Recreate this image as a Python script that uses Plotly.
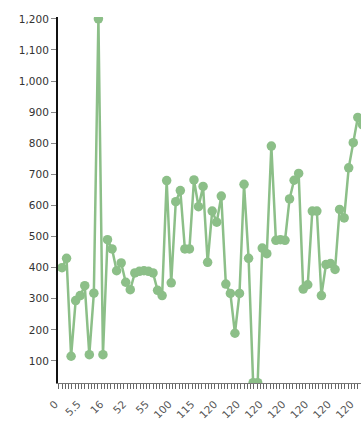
import plotly.graph_objects as go

# Series values (visible portion)
values = [400, 430, 115, 294, 310, 342, 120, 318, 1200, 120,
          490, 460, 390, 415, 353, 329, 383, 388, 390, 388,
          383, 327, 310, 680, 351, 612, 648, 460, 460, 682,
          596, 661, 417, 582, 546, 630, 347, 317, 189, 317,
          668, 430, 30, 30, 463, 445, 791, 488, 490, 488,
          621, 681, 703, 331, 345, 582, 582, 310, 410, 413,
          394, 587, 560, 721, 802, 883, 860]
x_index = list(range(len(values)))

# Category tick labels shown every 5th point
tick_labels = ["0", "5.5", "16", "52", "55", "100", "115",
               "120", "120", "120", "120", "120", "120", "120"]
tick_positions = [i * 5 for i in range(len(tick_labels))]

y_ticks = [100, 200, 300, 400, 500, 600, 700, 800, 900, 1000, 1100, 1200]

color = "#8cbf88"

fig = go.Figure(go.Scatter(
    x=x_index, y=values, mode="lines+markers",
    line=dict(color=color, width=2.5),
    marker=dict(color=color, size=9.5),
    cliponaxis=True,
))

fig.update_layout(
    width=361, height=421,
    margin=dict(l=58, r=0, t=17, b=38, autoexpand=False),
    plot_bgcolor="white", paper_bgcolor="white",
    showlegend=False,
    font=dict(family="DejaVu Sans", size=10, color="#444"),
)

fig.update_xaxes(
    range=[-0.88, 65.7], automargin=False,
    tickmode="array", tickvals=tick_positions, ticktext=tick_labels,
    tickangle=-45, ticks="outside", ticklen=5, tickcolor="#666",
    ticklabelshift=-7, ticklabelstandoff=5,
    showline=True, linecolor="#777", linewidth=1,
    showgrid=False, zeroline=False,
    tickfont=dict(size=10.5, color="#555"),
    minor=dict(tick0=0, dtick=5/7, ticks="outside", ticklen=5,
               tickcolor="#666", showgrid=False),
)

fig.update_yaxes(
    range=[29, 1206], automargin=False,
    tickmode="array", tickvals=y_ticks, tickformat=",",
    ticks="outside", ticklen=5, tickcolor="#888",
    showline=True, linecolor="#111", linewidth=2,
    showgrid=False, zeroline=False,
    tickfont=dict(size=10.5, color="#333"),
)

fig.write_html(
    "out.html",
    config={"displayModeBar": False},
    post_script="document.body.style.margin='0px';document.body.style.overflow='hidden';",
)
